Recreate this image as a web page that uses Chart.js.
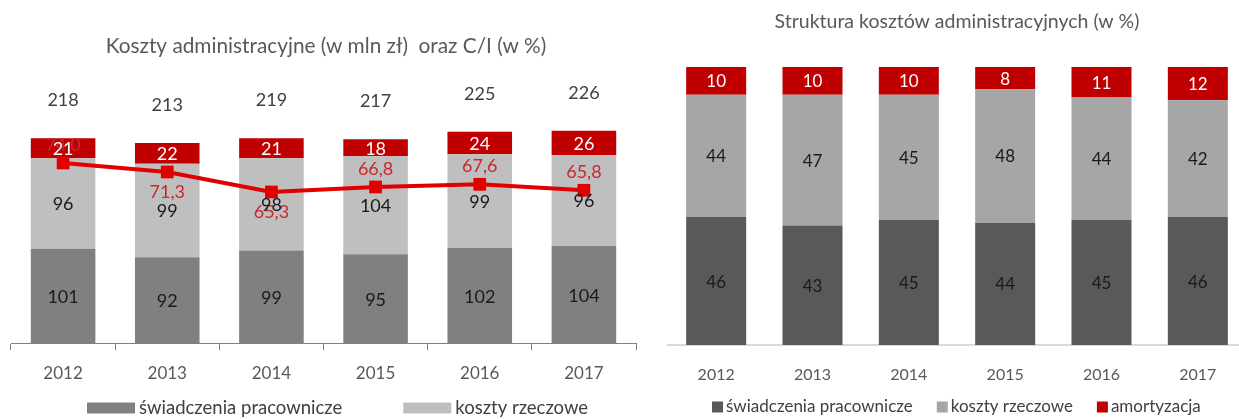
<!DOCTYPE html>
<html>
<head>
<meta charset="utf-8">
<script src="https://cdn.jsdelivr.net/npm/chart.js@4"></script>
<style>
html, body { margin: 0; padding: 0; background: #fff; overflow: hidden; width: 1239px; height: 419px; }
#left { position: absolute; left: 0; top: 0; }
#right { position: absolute; left: 645px; top: 0; }
</style>
</head>
<body>
<canvas id="left" width="645" height="419"></canvas>
<canvas id="right" width="605" height="419"></canvas>
<script>
let years = ['2012', '2013', '2014', '2015', '2016', '2017'];

// koszty w mln zł
let staff = [101, 92, 99, 95, 102, 104];
let material = [96, 99, 98, 104, 99, 96];
let depreciation = [21, 22, 21, 18, 24, 26];
let totals = [218, 213, 219, 217, 225, 226];
let costIncome = [74.0, 71.3, 65.3, 66.8, 67.6, 65.8];

// struktura w %
let staffPct = [46, 43, 45, 44, 45, 46];
let materialPct = [44, 47, 45, 48, 44, 42];
let deprPct = [10, 10, 10, 8, 11, 12];

let seriesNames = ['świadczenia pracownicze', 'koszty rzeczowe', 'amortyzacja'];

// where the C/I label sits relative to its marker
let ciLabelSide = ['above', 'below', 'below', 'above', 'above', 'above'];

Chart.defaults.font.family = 'Lato';
Chart.defaults.color = '#595959';

function fmt(v) {
    return v.toFixed(1).replace('.', ',');
}

let valueLabels = {
    id: 'valueLabels',
    afterDatasetsDraw(chart, args, opts) {
        let ctx = chart.ctx;
        ctx.save();
        ctx.textAlign = 'center';
        ctx.textBaseline = 'middle';

        // line labels first, bar labels are painted over them
        chart.data.datasets.forEach((ds, i) => {
            if (ds.type !== 'line') return;
            let meta = chart.getDatasetMeta(i);
            ctx.font = opts.lineFont;
            ctx.fillStyle = '#C8282D';
            meta.data.forEach((pt, j) => {
                let dy = ciLabelSide[j] === 'above' ? -18 : 20;
                ctx.fillText(fmt(ds.data[j]), pt.x, pt.y + dy);
            });
        });

        let lastBar = null;
        chart.data.datasets.forEach((ds, i) => {
            if (ds.type === 'line') return;
            let meta = chart.getDatasetMeta(i);
            lastBar = meta;
            ctx.font = opts.barFont;
            ctx.fillStyle = ds.labelColor;
            meta.data.forEach((bar, j) => {
                ctx.fillText(ds.data[j], bar.x, (bar.y + bar.base) / 2 + 1);
            });
        });

        if (opts.totals && lastBar) {
            ctx.font = opts.totalFont;
            ctx.fillStyle = '#404040';
            lastBar.data.forEach((bar, j) => {
                ctx.fillText(opts.totals[j], bar.x, bar.y - 38);
            });
        }
        ctx.restore();
    }
};

let boxLegend = {
    id: 'boxLegend',
    afterDraw(chart, args, opts) {
        let ctx = chart.ctx;
        ctx.save();
        ctx.font = opts.font;
        ctx.textBaseline = 'middle';
        ctx.textAlign = 'left';
        let x = opts.x;
        opts.items.forEach(it => {
            ctx.fillStyle = it.color;
            ctx.fillRect(x, opts.y - opts.boxH / 2, opts.boxW, opts.boxH);
            x += opts.boxW + opts.textGap;
            ctx.fillStyle = '#404040';
            ctx.fillText(it.text, x, opts.y);
            x += ctx.measureText(it.text).width + opts.itemGap;
        });
        ctx.restore();
    }
};

let leftCtx = document.getElementById('left').getContext('2d');
let leftChart = new Chart(leftCtx, {
    type: 'bar',
    data: {
        labels: years,
        datasets: [
            {
                type: 'line',
                label: 'C/I',
                data: costIncome,
                yAxisID: 'y2',
                borderColor: '#E00000',
                borderWidth: 4,
                pointStyle: 'rect',
                pointRadius: 9,
                pointBackgroundColor: '#E00000',
                pointBorderWidth: 0,
                tension: 0,
                order: 0
            },
            { label: seriesNames[0], data: staff, backgroundColor: '#808080', labelColor: '#1a1a1a', order: 1 },
            { label: seriesNames[1], data: material, backgroundColor: '#BFBFBF', labelColor: '#1a1a1a', order: 1 },
            { label: seriesNames[2], data: depreciation, backgroundColor: '#C00000', labelColor: '#ffffff', order: 1 }
        ]
    },
    options: {
        responsive: false,
        animation: false,
        layout: { padding: { left: 11, right: 4, top: 0, bottom: 0 } },
        datasets: { bar: { barPercentage: 0.62, categoryPercentage: 1 } },
        scales: {
            x: {
                stacked: true,
                grid: { display: true, drawOnChartArea: false, drawTicks: true, tickLength: 6, color: '#808080', offset: true },
                border: { display: true, color: '#808080', width: 1 },
                ticks: { font: { size: 17 }, color: '#595959', padding: 13 },
                afterFit(scale) { scale.height = 75; }
            },
            y: { stacked: true, display: false, min: 0, max: 300 },
            y2: { display: false, min: 19.7, max: 104.6 }
        },
        plugins: {
            legend: { display: false },
            tooltip: { enabled: false },
            title: {
                display: true,
                text: 'Koszty administracyjne (w mln zł)  oraz C/I (w %)',
                font: { size: 20.8, weight: 'normal' },
                color: '#595959',
                padding: { top: 34, bottom: 2 }
            },
            valueLabels: { barFont: '18px Lato', lineFont: '18px Lato', totalFont: '18px Lato', totals: totals },
            boxLegend: {
                x: 87, y: 408, boxW: 48, boxH: 11, textGap: 4, itemGap: 61, font: '18.5px Lato',
                items: [{ text: seriesNames[0], color: '#808080' }, { text: seriesNames[1], color: '#BFBFBF' }]
            }
        }
    },
    plugins: [valueLabels, boxLegend]
});

let rightCtx = document.getElementById('right').getContext('2d');
let rightChart = new Chart(rightCtx, {
    type: 'bar',
    data: {
        labels: years,
        datasets: [
            { label: seriesNames[0], data: staffPct, backgroundColor: '#595959', labelColor: '#1a1a1a' },
            { label: seriesNames[1], data: materialPct, backgroundColor: '#A6A6A6', labelColor: '#1a1a1a' },
            { label: seriesNames[2], data: deprPct, backgroundColor: '#C00000', labelColor: '#ffffff' }
        ]
    },
    options: {
        responsive: false,
        animation: false,
        layout: { padding: { left: 23, right: 4, top: 0, bottom: 0 } },
        datasets: { bar: { barPercentage: 0.623, categoryPercentage: 1 } },
        scales: {
            x: {
                stacked: true,
                grid: { display: false },
                border: { display: true, color: '#D9D9D9', width: 2 },
                ticks: { font: { size: 16 }, color: '#595959', padding: 12 },
                afterFit(scale) { scale.height = 74; }
            },
            y: { stacked: true, display: false, min: 0, max: 100 }
        },
        plugins: {
            legend: { display: false },
            tooltip: { enabled: false },
            title: {
                display: true,
                text: 'Struktura kosztów administracyjnych (w %)',
                font: { size: 19.5, weight: 'normal' },
                color: '#595959',
                padding: { top: 10, bottom: 33.6 }
            },
            valueLabels: { barFont: '17px Lato' },
            boxLegend: {
                x: 67, y: 407, boxW: 11, boxH: 11, textGap: 3, itemGap: 24, font: '17px Lato',
                items: [
                    { text: seriesNames[0], color: '#595959' },
                    { text: seriesNames[1], color: '#A6A6A6' },
                    { text: seriesNames[2], color: '#C00000' }
                ]
            }
        }
    },
    plugins: [valueLabels, boxLegend]
});
</script>
</body>
</html>
